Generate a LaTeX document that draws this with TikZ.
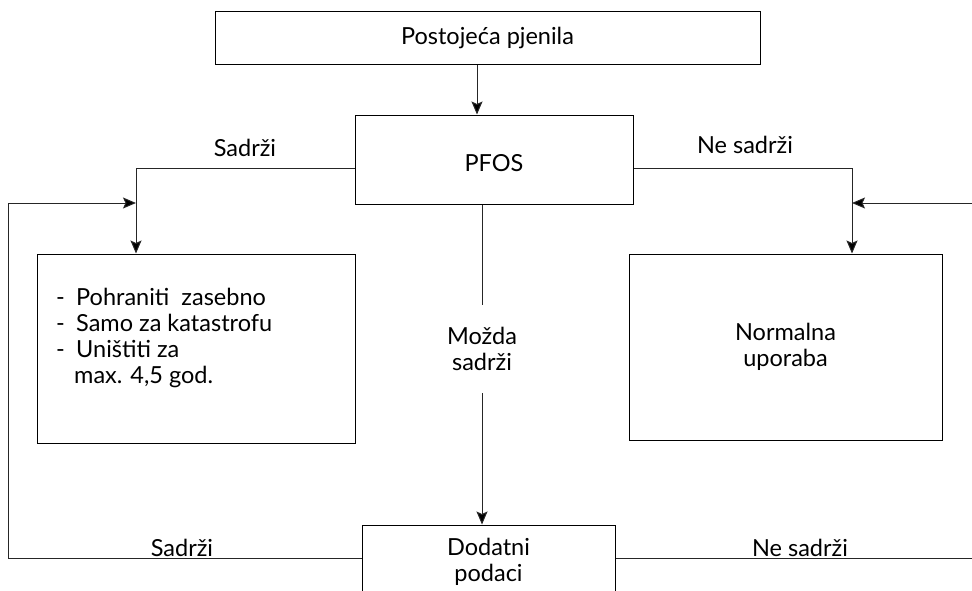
\documentclass[tikz,border=0pt]{standalone}
\usepackage{fontspec}
\setmainfont{Lato}
\usetikzlibrary{arrows.meta}
\begin{document}
\begin{tikzpicture}[x=1pt,y=-1pt,
  box/.style={draw=black,line width=1pt,minimum width=#1,inner sep=0pt,font=\fontsize{23.5}{26}\selectfont},
  lbl/.style={font=\fontsize{23.5}{26}\selectfont,inner sep=0pt},
  conn/.style={draw=black!85,line width=1pt},
  arr/.style={conn,-{Stealth[length=13pt,width=11pt,inset=2.5pt,fill=black]}}]
\useasboundingbox (0,0) rectangle (972,590);
\begin{scope}
\clip (0,0) rectangle (972,590);
\node[box=545pt,minimum height=53pt] (top) at (487.5,38) {Postojeća pjenila};
\node[box=278pt,minimum height=89pt] (pfos) at (494,159.5) {};
\node[lbl] (pfost) at (494,163) {PFOS};
\node[box=318pt,minimum height=189pt] (lbox) at (196,348.5) {};
\node[lbl,anchor=west,align=left] (ltext) at (56,338) {\makebox[20pt][l]{-}Pohraniti~~zasebno\\\makebox[20pt][l]{-}Samo za katastrofu\\\makebox[20pt][l]{-}Uništiti za\\\hspace*{18pt}max. 4,5 god.};
\node[box=313pt,minimum height=186pt,align=center] (rbox) at (785.5,347) {Normalna\\uporaba};
\node[box=253pt,minimum height=90pt,align=center] (dod) at (488.5,570) {};
\node[lbl,align=center] (dodt) at (488.5,562) {Dodatni\\podaci};
\node[lbl,align=center,minimum height=88pt] (maybe) at (482,349) {Možda\\sadrži};
\coordinate (lc) at (136,168);
\coordinate (rc) at (852,168);
\coordinate (lf) at (8,203);
\coordinate (rf) at (980,203);
\coordinate (lfb) at (8,558);
\coordinate (rfb) at (980,558);
\draw[arr] ([xshift=-10.5pt]top.south) -- ([xshift=-17pt]pfos.north);
\draw[conn] ([yshift=-8.5pt]pfos.west) -- (lc);
\draw[arr] (lc) -- (lc |- lbox.north);
\draw[conn] ([yshift=-8.5pt]pfos.east) -- (rc);
\draw[arr] (rc) -- (rc |- rbox.north);
\draw[conn] (maybe.north |- pfos.south) -- (maybe.north);
\draw[arr] (maybe.south) -- (maybe.south |- dod.north);
\draw[conn] (dod.west |- lfb) -- (lfb) -- (lf);
\draw[arr] (lf) -- (lc |- lf);
\draw[conn] (dod.east |- rfb) -- (rfb) -- (rf);
\draw[arr] (rf) -- (rc |- rf);
\node[lbl] (l1) at (245,148) {Sadrži};
\node[lbl] (l2) at (745,145) {Ne sadrži};
\node[lbl] (l3) at (182,548) {Sadrži};
\node[lbl] (l4) at (800,548) {Ne sadrži};
\end{scope}
\end{tikzpicture}
\end{document}
